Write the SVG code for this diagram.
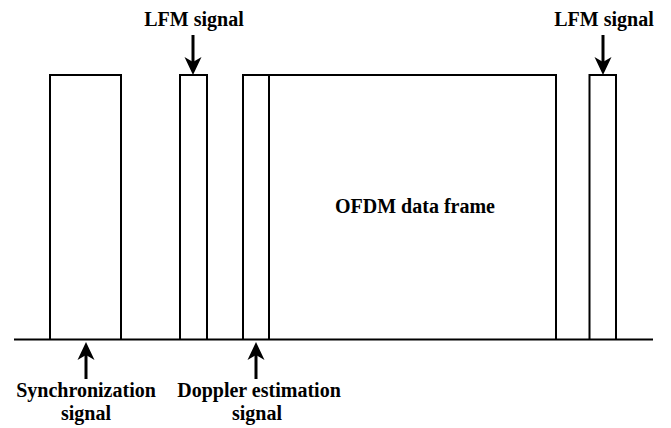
<svg xmlns="http://www.w3.org/2000/svg" width="671" height="428" viewBox="0 0 671 428">
  <style>
    .box { fill: none; stroke: #000; stroke-width: 2; }
    .axis { stroke: #000; stroke-width: 2; }
    .shaft { stroke: #000; stroke-width: 3; }
    .head { fill: #000; }
    .lbl { font-family: "Liberation Serif", "Times New Roman", serif; font-weight: bold; font-size: 20px; fill: #000; text-anchor: middle; }
  </style>
  <rect width="671" height="428" fill="#fff"/>

  <!-- time axis -->
  <line id="axis" class="axis" x1="14" y1="339.5" x2="653" y2="339.5"/>

  <!-- frame segments -->
  <g id="sync-block">
    <polyline class="box" points="50,339.5 50,75 121,75 121,339.5"/>
  </g>
  <g id="lfm-block-1">
    <polyline class="box" points="180,339.5 180,75 207,75 207,339.5"/>
  </g>
  <g id="doppler-block">
    <polyline class="box" points="243,339.5 243,75 269,75 269,339.5"/>
  </g>
  <g id="ofdm-block">
    <polyline class="box" points="269,75 556,75 556,339.5"/>
    <text class="lbl" x="415" y="213">OFDM data frame</text>
  </g>
  <g id="lfm-block-2">
    <polyline class="box" points="589.5,339.5 589.5,75 616,75 616,339.5"/>
  </g>

  <!-- labels -->
  <g id="lfm-label-1">
    <text class="lbl" x="194" y="26">LFM signal</text>
  </g>
  <g id="lfm-label-2">
    <text class="lbl" x="604" y="26">LFM signal</text>
  </g>
  <g id="sync-label">
    <text class="lbl" x="86" y="397">Synchronization</text>
    <text class="lbl" x="86" y="420">signal</text>
  </g>
  <g id="doppler-label">
    <text class="lbl" x="259" y="397">Doppler estimation</text>
    <text class="lbl" x="257" y="420">signal</text>
  </g>

  <!-- pointer arrows -->
  <g id="connectors">
    <line class="shaft" x1="193" y1="35" x2="193" y2="64"/>
    <path class="head" d="M193,75 L184.5,57 L193,62 L201.5,57 Z"/>
    <line class="shaft" x1="603" y1="35" x2="603" y2="64"/>
    <path class="head" d="M603,75 L594.5,57 L603,62 L611.5,57 Z"/>
    <line class="shaft" x1="86" y1="379" x2="86" y2="352"/>
    <path class="head" d="M86,342 L77.5,360 L86,355 L94.5,360 Z"/>
    <line class="shaft" x1="256" y1="379" x2="256" y2="352"/>
    <path class="head" d="M256,342 L247.5,360 L256,355 L264.5,360 Z"/>
  </g>
</svg>
